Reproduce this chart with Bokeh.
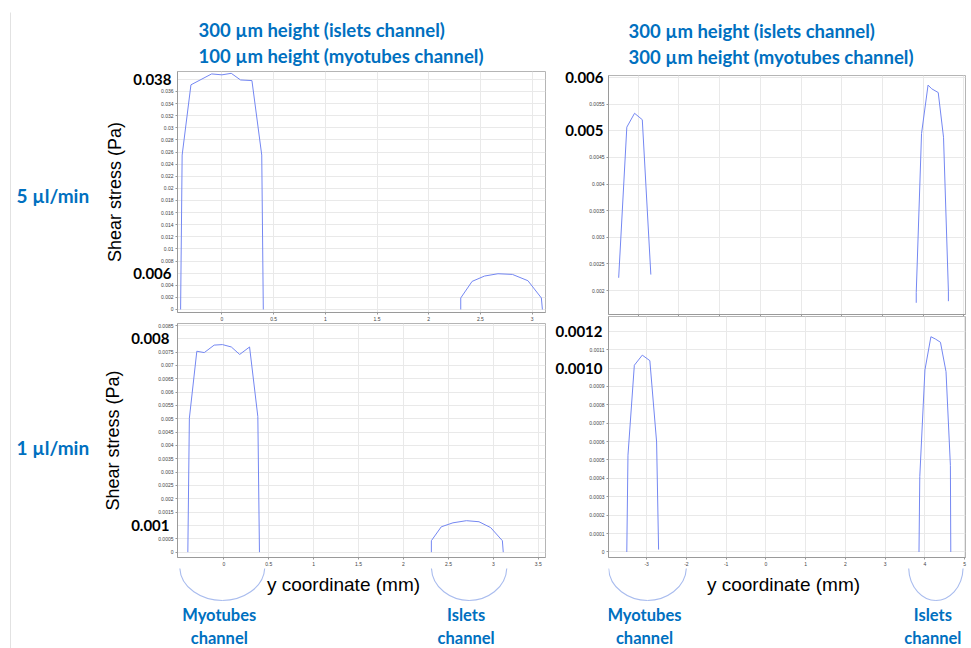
from bokeh.plotting import figure
from bokeh.layouts import row, column
from bokeh.models import Range1d, FixedTicker, NumeralTickFormatter, Label, LinearAxis, Title
from bokeh.embed import file_html
from bokeh.resources import INLINE

# ---------------- data: wall shear stress (Pa) vs y coordinate (mm) ----------------
# 5 ul/min, 300 um islets / 100 um myotubes
tl_myo_x = [-0.40, -0.385, -0.30, -0.10, 0.0, 0.09, 0.18, 0.29, 0.385, 0.40]
tl_myo_y = [0.0, 0.0255, 0.0371, 0.0389, 0.03875, 0.0390, 0.0379, 0.0378, 0.0255, 0.0]
tl_isl_x = [2.31, 2.31, 2.42, 2.54, 2.67, 2.81, 2.96, 3.09, 3.10]
tl_isl_y = [0.0, 0.0019, 0.00464, 0.00552, 0.0059, 0.00579, 0.00475, 0.0019, 0.0]

# 1 ul/min, 300 um islets / 100 um myotubes
bl_myo_x = [-0.40, -0.383, -0.30, -0.217, -0.107, -0.015, 0.084, 0.177, 0.287, 0.379, 0.397]
bl_myo_y = [0.0, 0.00502, 0.00753, 0.00748, 0.00776, 0.00778, 0.00769, 0.00741, 0.00769, 0.00508, 0.0]
bl_isl_x = [2.31, 2.31, 2.42, 2.55, 2.70, 2.84, 2.97, 3.10, 3.11]
bl_isl_y = [0.0, 0.00043, 0.00095, 0.0011, 0.00118, 0.00114, 0.00092, 0.00043, 0.0]

# 5 ul/min, 300 um islets / 300 um myotubes
tr_myo_x = [-3.48, -3.28, -3.09, -2.90, -2.69]
tr_myo_y = [0.00224, 0.00507, 0.00533, 0.00521, 0.0023]
tr_isl_x = [3.83, 3.83, 3.96, 4.12, 4.21, 4.37, 4.50, 4.62, 4.62]
tr_isl_y = [0.00177, 0.00196, 0.00495, 0.00586, 0.00579, 0.00572, 0.00488, 0.00199, 0.0018]

# 1 ul/min, 300 um islets / 300 um myotubes
br_myo_x = [-3.50, -3.47, -3.31, -3.11, -2.92, -2.75, -2.70]
br_myo_y = [0.0, 0.000526, 0.001015, 0.00107, 0.00104, 0.000598, 0.000013]
br_isl_x = [3.85, 3.87, 4.00, 4.15, 4.26, 4.39, 4.53, 4.64, 4.65]
br_isl_y = [0.0, 0.00041, 0.00099, 0.00117, 0.001158, 0.00114, 0.00098, 0.00047, 0.0]

# ---------------- ticks ----------------
tl_xticks = [0, 0.5, 1, 1.5, 2, 2.5, 3]
tl_yticks = [round(i * 0.002, 4) for i in range(20)]
bl_xticks = [0, 0.5, 1, 1.5, 2, 2.5, 3, 3.5]
bl_yticks = [round(i * 0.0005, 5) for i in range(18)]
tr_xticks = [-3, -2, -1, 0, 1, 2, 3, 4, 5]
tr_yticks = [round(0.002 + i * 0.0005, 5) for i in range(9)]
br_xticks = [-3, -2, -1, 0, 1, 2, 3, 4, 5]
br_yticks = [round(i * 0.0001, 5) for i in range(13)]

# highlighted axis values (bold) and their number format
tl_marks, tl_fmt = [0.038, 0.006], "0.000"
bl_marks, bl_fmt = [0.008, 0.001], "0.000"
tr_marks, tr_fmt = [0.006, 0.005], "0.000"
br_marks, br_fmt = [0.0012, 0.0010], "0.0000"

# channel extents marked with braces (mm)
left_channels = [(-0.49, 0.456), (2.31, 3.15)]
right_channels = [(-3.96, -2.0), (3.59, 4.96)]
channel_names = ["Myotubes", "Islets"]

column_titles = [("300 µm height (islets channel)", "100 µm height (myotubes channel)"),
                 ("300 µm height (islets channel)", "300 µm height (myotubes channel)")]
row_titles = ["5 µl/min", "1 µl/min"]

LINE = "#7487f2"
BLUE = "#0070C0"
BRACE = "#a9bcee"


def panel(width, height, xr, yr, borders, xticks, yticks, marks, mark_fmt, mark_standoff,
          xlabels=True, ylabel=None):
    p = figure(width=width, height=height, x_range=Range1d(*xr), y_range=Range1d(*yr),
               output_backend="svg", toolbar_location=None, title=None,
               min_border_left=borders[0], min_border_right=borders[1],
               min_border_top=borders[2], min_border_bottom=borders[3])
    small = [t for t in yticks if all(abs(t - m) > 1e-9 for m in marks)]
    p.xaxis.ticker = FixedTicker(ticks=xticks, minor_ticks=[])
    p.yaxis.ticker = FixedTicker(ticks=small, minor_ticks=[])
    p.ygrid.ticker = FixedTicker(ticks=yticks, minor_ticks=[])
    p.xaxis.formatter = NumeralTickFormatter(format="0.[0]")
    p.yaxis.formatter = NumeralTickFormatter(format="0.[0000]")
    for ax in (p.xaxis[0], p.yaxis[0]):
        ax.major_label_text_font_size = "5px"
        ax.major_label_text_color = "#444444"
        ax.major_label_text_font = "Liberation Sans"
        ax.major_tick_out = 2
        ax.major_tick_in = 0
        ax.major_label_standoff = 2
        ax.axis_line_color = "#9a9a9a"
        ax.major_tick_line_color = "#9a9a9a"
    if not xlabels:
        p.xaxis.major_label_text_color = None
        p.xaxis.major_label_standoff = 0

    # bold values drawn over the small tick labels
    bold = LinearAxis(ticker=FixedTicker(ticks=marks, minor_ticks=[]),
                      formatter=NumeralTickFormatter(format=mark_fmt),
                      axis_line_color=None, major_tick_line_color=None,
                      minor_tick_line_color=None, major_tick_out=0, major_tick_in=0,
                      major_label_standoff=mark_standoff,
                      major_label_text_font="Lato", major_label_text_font_style="bold",
                      major_label_text_font_size="15px", major_label_text_color="#000000")
    if ylabel:
        bold.axis_label = ylabel
        bold.axis_label_text_font = "Liberation Sans"
        bold.axis_label_text_font_size = "18px"
        bold.axis_label_text_font_style = "normal"
        bold.axis_label_text_color = "#000000"
        bold.axis_label_standoff = 5
    p.add_layout(bold, "left")

    p.grid.grid_line_color = "#e9e9e9"
    p.outline_line_color = "#b5b5b5"
    p.background_fill_color = "white"
    p.border_fill_color = "white"
    return p


def add_titles(p, lines, standoff, offset):
    p.add_layout(Title(text="\n".join(lines), align="left", offset=offset, standoff=standoff,
                       text_font="Lato", text_font_style="bold", text_font_size="18.5px",
                       text_line_height=1.22, text_color=BLUE), "above")


# ---------------- top-left: 5 ul/min, 100 um myotubes ----------------
tl = panel(452, 323, (-0.43, 3.13), (-0.0005, 0.0393), (74, 7, 71, 9),
           tl_xticks, tl_yticks, tl_marks, tl_fmt, -14, ylabel="Shear stress (Pa)")
tl.line(tl_myo_x, tl_myo_y, line_color=LINE, line_width=1)
tl.line(tl_isl_x, tl_isl_y, line_color=LINE, line_width=1)
add_titles(tl, column_titles[0], 8, 21)

# ---------------- bottom-left: 1 ul/min, 100 um myotubes ----------------
bl = panel(452, 245, (-0.515, 3.58), (-0.0002, 0.00857), (74, 7, 0, 10),
           bl_xticks, bl_yticks, bl_marks, bl_fmt, -14, ylabel="Shear stress (Pa)")
bl.line(bl_myo_x, bl_myo_y, line_color=LINE, line_width=1)
bl.line(bl_isl_x, bl_isl_y, line_color=LINE, line_width=1)

# ---------------- top-right: 5 ul/min, 300 um myotubes ----------------
tr = panel(419, 316, (-3.73, 5.04), (0.00155, 0.00604), (51, 6, 75, 2),
           tr_xticks, tr_yticks, tr_marks, tr_fmt, -17, xlabels=False)
tr.line(tr_myo_x, tr_myo_y, line_color=LINE, line_width=1)
tr.line(tr_isl_x, tr_isl_y, line_color=LINE, line_width=1)
add_titles(tr, column_titles[1], 14, 20)

# ---------------- bottom-right: 1 ul/min, 300 um myotubes ----------------
br = panel(419, 252, (-3.96, 5.02), (-0.00003, 0.00128), (51, 3, 0, 11),
           br_xticks, br_yticks, br_marks, br_fmt, -16)
br.line(br_myo_x, br_myo_y, line_color=LINE, line_width=1)
br.line(br_isl_x, br_isl_y, line_color=LINE, line_width=1)


# ---------------- strips below the axes: axis title, braces, channel names ----------------
def strip(width, x_range, left, right, title_x, channels):
    s = figure(width=width, height=80, x_range=x_range, y_range=Range1d(0, 80),
               output_backend="svg", toolbar_location=None, title=None,
               min_border_left=left, min_border_right=right, min_border_top=0, min_border_bottom=0,
               x_axis_type=None, y_axis_type=None)
    s.grid.visible = False
    s.outline_line_color = None
    s.add_layout(Label(x=title_x, y=64, x_units="screen", y_units="screen",
                       text="y coordinate (mm)", text_align="center", text_baseline="middle",
                       text_font="Liberation Sans", text_font_size="19px", text_color="#000000"))
    top, tip = 82, 48
    xs0, ys0, xs1, ys1, cx0, cy0, cx1, cy1 = [], [], [], [], [], [], [], []
    for a, b in channels:
        c = (a + b) / 2
        for start in (a, b):
            xs0.append(start); ys0.append(top)
            xs1.append(c); ys1.append(tip)
            cx0.append(start); cy0.append(tip + (top - tip) * 0.35)
            cx1.append(c - (c - start) * 0.45); cy1.append(tip)
    s.bezier(x0=xs0, y0=ys0, x1=xs1, y1=ys1, cx0=cx0, cy0=cy0, cx1=cx1, cy1=cy1,
             line_color=BRACE, line_width=1.1)
    for (a, b), name in zip(channels, channel_names):
        c = (a + b) / 2
        for txt, y in ((name, 34), ("channel", 11)):
            s.add_layout(Label(x=c, y=y, x_units="data", y_units="screen", text=txt,
                               x_offset=-3, text_align="center", text_baseline="middle",
                               text_font="Lato", text_font_style="bold", text_font_size="16.5px",
                               text_color=BLUE))
    return s


sl = strip(452, bl.x_range, 74, 7, 166, left_channels)
sr = strip(419, br.x_range, 51, 3, 175, right_channels)

# ---------------- left margin: flow-rate row titles ----------------
rt = figure(width=100, height=648, x_range=Range1d(0, 100), y_range=Range1d(648, 0),
            output_backend="svg", toolbar_location=None, title=None,
            min_border_left=0, min_border_right=0, min_border_top=0, min_border_bottom=0,
            x_axis_type=None, y_axis_type=None)
rt.grid.visible = False
rt.outline_line_color = None
rt.segment(x0=[10], y0=[12], x1=[10], y1=[648], line_color="#e2e2e2", line_width=1)
for txt, y in zip(row_titles, [195, 447]):
    rt.add_layout(Label(x=16, y=y, text=txt, text_align="left", text_baseline="middle",
                        text_font="Lato", text_font_style="bold", text_font_size="19px",
                        text_color=BLUE))

layout = row(rt, column(tl, bl, sl), column(tr, br, sr))

with open("out.html", "w") as f:
    f.write(file_html(layout, INLINE))
